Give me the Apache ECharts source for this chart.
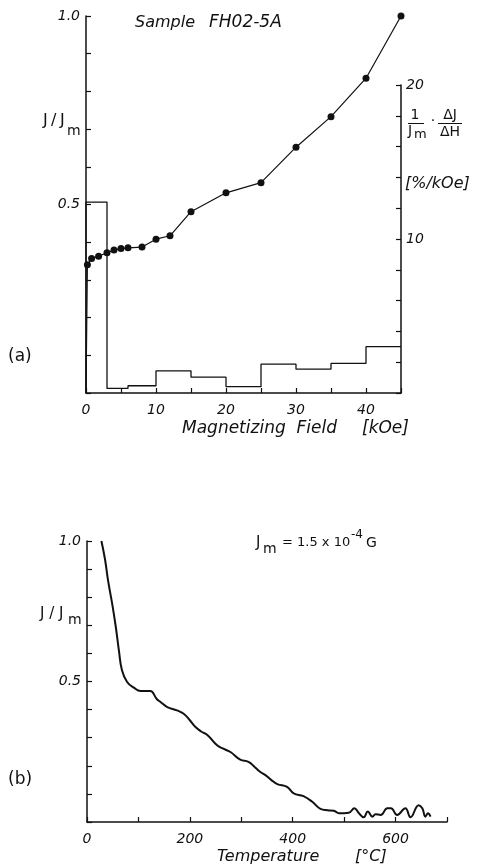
<!DOCTYPE html>
<html>
<head>
<meta charset="utf-8">
<script src="https://cdn.jsdelivr.net/npm/echarts@6/dist/echarts.min.js"></script>
<style>
  html, body { margin: 0; padding: 0; background: #fff; }
  #chart { width: 485px; height: 865px; }
</style>
</head>
<body>
<div id="chart"></div>
<script>
// (a) IRM acquisition: normalised remanence vs magnetizing field
const fieldKOe = [0, 0.2, 0.8, 1.8, 3, 4, 5, 6, 8, 10, 12, 15, 20, 25, 30, 35, 40, 45];
const jRatioIRM = [0, 0.34, 0.357, 0.363, 0.372, 0.379, 0.383, 0.385, 0.387, 0.408, 0.417, 0.481, 0.531, 0.558, 0.652, 0.733, 0.835, 1.0];

// acquisition rate per field interval, in %/kOe
const binEdges = [0, 3, 6, 10, 15, 20, 25, 30, 35, 40, 45];
const acqRate = [12.4, 0.3, 0.47, 1.44, 1.03, 0.41, 1.87, 1.55, 1.92, 3.01];

// (b) thermal demagnetization of the remanence
const tempC = [28, 35, 41, 49, 56, 62, 68, 78, 91, 104, 112, 123, 136, 143, 156, 175, 188, 200, 211, 222, 234, 253, 266, 279, 298, 314, 326, 337, 347, 358, 370, 389, 402, 421, 438, 454, 468, 480, 490, 509, 520, 528, 538, 546, 555, 561, 571, 584, 591, 603, 619, 629, 645, 652, 658, 663, 668];
const jRatioThermal = [1.0, 0.935, 0.859, 0.776, 0.694, 0.611, 0.54, 0.498, 0.478, 0.466, 0.466, 0.466, 0.437, 0.427, 0.409, 0.397, 0.385, 0.362, 0.338, 0.322, 0.31, 0.273, 0.26, 0.249, 0.222, 0.214, 0.196, 0.178, 0.167, 0.15, 0.135, 0.125, 0.102, 0.092, 0.072, 0.047, 0.042, 0.04, 0.031, 0.033, 0.049, 0.033, 0.017, 0.037, 0.019, 0.028, 0.025, 0.049, 0.049, 0.025, 0.049, 0.017, 0.06, 0.049, 0.019, 0.031, 0.019];

const topXTicks = [0, 10, 20, 30, 40];
const topYTicks = [0.5, 1.0];
const rateTicks = [10, 20];
const bottomXTicks = [0, 200, 400, 600];
const bottomYTicks = [0.5, 1.0];

const INK = '#111';
const FONT = 'DejaVu Sans';
const numLabel = {
  color: INK, fontFamily: FONT, fontStyle: 'italic', fontSize: 14
};

function has(list, v) {
  return list.some(t => Math.abs(t - v) < 1e-6);
}

// step outline of the rate histogram
const rateOutline = [[binEdges[0], 0]];
acqRate.forEach((r, i) => {
  rateOutline.push([binEdges[i], r]);
  rateOutline.push([binEdges[i + 1], r]);
});

const irmData = fieldKOe.map((h, i) => i === 0
  ? { value: [h, jRatioIRM[i]], symbolSize: 0 }
  : [h, jRatioIRM[i]]);

const thermalData = tempC.map((t, i) => [t, jRatioThermal[i]]);

const axisLine = { onZero: false, lineStyle: { color: INK, width: 1.5 } };
const tick = { inside: true, length: 5, lineStyle: { color: INK, width: 1.2 } };

const chart = echarts.init(document.getElementById('chart'), null, { renderer: 'canvas' });

// text anchored at its left edge (or centre) and vertical middle
function txt(x, y, text, font, align) {
  return {
    type: 'text', x: x, y: y,
    style: {
      text: text, fill: INK, font: font + ' "' + FONT + '"',
      align: align || 'left', verticalAlign: 'middle'
    }
  };
}
function rule(x1, x2, y) {
  return {
    type: 'line', shape: { x1: x1, y1: y, x2: x2, y2: y },
    style: { stroke: INK, lineWidth: 1 }
  };
}

chart.setOption({
  backgroundColor: '#fff',
  animation: false,
  grid: [
    { left: 86, top: 16, width: 315, height: 377 },
    { left: 86, top: 85, width: 315, height: 308 },
    { left: 87, top: 541, width: 360, height: 281 }
  ],
  xAxis: [
    {
      gridIndex: 0, type: 'value', min: 0, max: 45, interval: 5,
      axisLine: axisLine, axisTick: tick, splitLine: { show: false },
      axisLabel: Object.assign({}, numLabel, {
        margin: 10,
        formatter: v => has(topXTicks, v) ? String(v) : ''
      })
    },
    {
      gridIndex: 1, type: 'value', min: 0, max: 45, show: false
    },
    {
      gridIndex: 2, type: 'value', min: 0, max: 700, interval: 100,
      axisLine: axisLine, axisTick: tick, splitLine: { show: false },
      axisLabel: Object.assign({}, numLabel, {
        margin: 10,
        formatter: v => has(bottomXTicks, v) ? String(v) : ''
      })
    }
  ],
  yAxis: [
    {
      gridIndex: 0, type: 'value', min: 0, max: 1, interval: 0.1,
      axisLine: axisLine, axisTick: tick, splitLine: { show: false },
      axisLabel: Object.assign({}, numLabel, {
        margin: 6,
        formatter: v => has(topYTicks, v) ? v.toFixed(1) : ''
      })
    },
    {
      gridIndex: 1, type: 'value', position: 'right', min: 0, max: 20, interval: 2,
      axisLine: Object.assign({ show: true }, axisLine), axisTick: tick,
      splitLine: { show: false },
      axisLabel: Object.assign({}, numLabel, {
        margin: 5,
        formatter: v => has(rateTicks, v) ? String(v) : ''
      })
    },
    {
      gridIndex: 2, type: 'value', min: 0, max: 1, interval: 0.1,
      axisLine: axisLine, axisTick: tick, splitLine: { show: false },
      axisLabel: Object.assign({}, numLabel, {
        margin: 6,
        formatter: v => has(bottomYTicks, v) ? v.toFixed(1) : ''
      })
    }
  ],
  series: [
    {
      type: 'line', xAxisIndex: 0, yAxisIndex: 0, data: irmData,
      symbol: 'circle', symbolSize: 7,
      itemStyle: { color: INK },
      lineStyle: { color: INK, width: 1.2 }
    },
    {
      type: 'line', xAxisIndex: 1, yAxisIndex: 1, data: rateOutline,
      symbol: 'none',
      lineStyle: { color: INK, width: 1.3 }
    },
    {
      type: 'line', xAxisIndex: 2, yAxisIndex: 2, data: thermalData,
      symbol: 'none', smooth: 0.45,
      lineStyle: { color: INK, width: 2 }
    }
  ],
  graphic: [
    // panel (a)
    txt(135, 23, 'Sample', 'italic 16px'),
    txt(209, 23, 'FH02-5A', 'italic 17px'),
    txt(43, 121, 'J', '16px'),
    txt(51, 121, '/', '16px'),
    txt(60, 121, 'J', '16px'),
    txt(67, 131, 'm', '14px'),
    txt(415, 115, '1', '14px', 'center'),
    rule(408, 424, 123.5),
    txt(408, 131, 'J', '14px'),
    txt(414, 135, 'm', '13px'),
    txt(433, 121, '·', '14px', 'center'),
    txt(450, 115, 'ΔJ', '14px', 'center'),
    rule(438, 462, 123.5),
    txt(450, 132, 'ΔH', '14px', 'center'),
    txt(405, 184, '[%/kOe]', 'italic 16px'),
    txt(8, 357, '(a)', '17px'),
    txt(182, 429, 'Magnetizing  Field', 'italic 17px'),
    txt(362, 429, '[kOe]', 'italic 17px'),
    // panel (b)
    txt(256, 543, 'J', '15px'),
    txt(263, 549, 'm', '14px'),
    txt(282, 543, '= 1.5 x 10', '13px'),
    txt(351, 535, '-4', '12px'),
    txt(366, 543, 'G', '14px'),
    txt(40, 614, 'J / J', '15px'),
    txt(68, 620, 'm', '14px'),
    txt(8, 780, '(b)', '17px'),
    txt(217, 857, 'Temperature', 'italic 16px'),
    txt(355, 857, '[°C]', 'italic 16px')
  ]
});
</script>
</body>
</html>
